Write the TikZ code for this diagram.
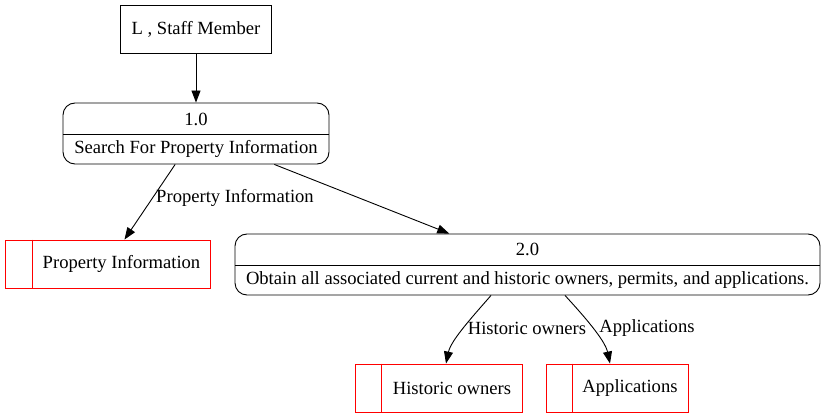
\documentclass[tikz,border=0pt]{standalone}
\usepackage{fontspec}
\setmainfont{Liberation Serif}
\usetikzlibrary{arrows.meta}
\begin{document}
\begin{tikzpicture}[x=1pt,y=-1pt,
  every node/.style={font=\fontsize{18.6}{20}\selectfont, inner sep=0pt},
  ext/.style={draw, line width=0.9pt},
  proc/.style={draw, line width=0.9pt, rounded corners=12pt},
  store/.style={draw=red, line width=0.9pt},
  arr/.style={line width=0.9pt, -{Triangle[length=12pt,width=9pt]}}]
\useasboundingbox (0,0) rectangle (826,419);
% external entity
\node[ext, minimum width=151pt, minimum height=48pt] (staff) at (196,29) {L , Staff Member};
% process 1.0
\node[proc, minimum width=266pt, minimum height=61pt] (p1) at (196,133.5) {};
\coordinate (p1dl) at (63,134);
\coordinate (p1dr) at (329,134);
\draw[line width=0.9pt] (p1dl) -- (p1dr);
\node (p1n) at (196,119) {1.0};
\node (p1t) at (196,149) {Search For Property Information};
% process 2.0
\node[proc, minimum width=585pt, minimum height=61pt] (p2) at (527.5,264.5) {};
\coordinate (p2dl) at (235,265);
\coordinate (p2dr) at (820,265);
\draw[line width=0.9pt] (p2dl) -- (p2dr);
\node (p2n) at (527.5,249) {2.0};
\node (p2t) at (527.5,280) {Obtain all associated current and historic owners, permits, and applications.};
% stores
\node[store, minimum width=205pt, minimum height=48pt] (s1) at (108,264) {};
\draw[store] ([xshift=27pt]s1.north west) -- ([xshift=27pt]s1.south west);
\node (s1t) at (121.5,264) {Property Information};
\node[store, minimum width=167pt, minimum height=48pt] (s2) at (438.5,388) {};
\draw[store] ([xshift=27pt]s2.north west) -- ([xshift=27pt]s2.south west);
\node (s2t) at (452,388) {Historic owners};
\node[store, minimum width=142pt, minimum height=48pt] (s3) at (617,388) {};
\draw[store] ([xshift=27pt]s3.north west) -- ([xshift=27pt]s3.south west);
\node (s3t) at (630,388) {Applications};
% edges
\draw[arr] (staff) -- (p1);
\draw[arr] (p1) -- (s1);
\node (l1) at (235,198) {Property Information};
\draw[arr] (p1) -- (p2);
\draw[arr] ([xshift=-36.5pt]p2.south) .. controls (474,315) and (451,340) .. ([xshift=7.5pt]s2.north);
\node (l2) at (527,328) {Historic owners};
\draw[arr] ([xshift=37.5pt]p2.south) .. controls (583,315) and (605,340) .. ([xshift=-7pt]s3.north);
\node (l3) at (647,328) {Applications};
\end{tikzpicture}
\end{document}
